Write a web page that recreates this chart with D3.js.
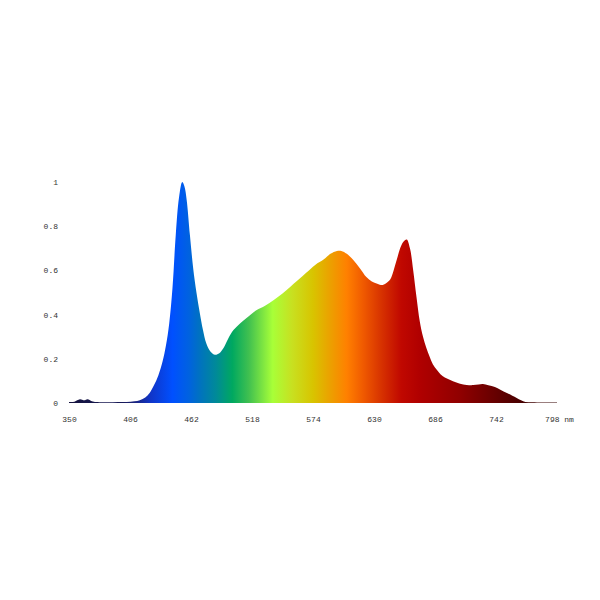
<!DOCTYPE html>
<html>
<head>
<meta charset="utf-8">
<script src="https://cdn.jsdelivr.net/npm/d3@7"></script>
<style>
  html, body { margin: 0; padding: 0; background: #fff; }
  svg { display: block; }
  text { font-family: "Liberation Mono", "DejaVu Sans Mono", monospace; font-size: 8px; fill: #333; }
</style>
</head>
<body>
<svg id="chart" width="600" height="600"></svg>
<script>
const wavelengths = [350,355,360,364,367,371,375,385,395,403,410,415,420,424,428,432,436,439,442,445,448,451,454,456,458,461,464,467,470,473,476,480,484,488,492,496,501,507,513,522,530,538,546,553,560,568,576,584,590,596,600,605,611,617,623,628,633,638,642,645,648,651,654,657,660,663,666,669,672,675,678,681,684,688,691,695,700,705,709,715,721,726,730,735,741,746,752,757,761,765,769,775,785,798];
const intensity = [0.004,0.006,0.017,0.012,0.017,0.008,0.004,0.003,0.004,0.005,0.008,0.013,0.025,0.045,0.08,0.125,0.19,0.26,0.36,0.52,0.76,0.93,1.0,0.98,0.92,0.76,0.61,0.5,0.41,0.33,0.27,0.232,0.218,0.225,0.25,0.29,0.33,0.36,0.385,0.42,0.44,0.466,0.495,0.525,0.555,0.59,0.625,0.65,0.675,0.688,0.688,0.675,0.647,0.61,0.57,0.55,0.54,0.534,0.545,0.56,0.6,0.65,0.7,0.73,0.74,0.7,0.6,0.48,0.37,0.3,0.25,0.21,0.175,0.148,0.13,0.115,0.104,0.094,0.087,0.082,0.081,0.084,0.086,0.08,0.072,0.06,0.045,0.033,0.023,0.012,0.005,0.003,0.002,0.002];

const xTicks = [350,406,462,518,574,630,686,742,798];
const yTicks = [0,0.2,0.4,0.6,0.8,1];

const colorStopWavelengths = [350,400,412,425,445,460,470,485,500,515,537,555,574,590,605,620,636,655,672,709,746,770,798];
const colorStopColors = ["#14123d","#181a5a","#1a2585","#1035c8","#0050ff","#0062e0","#0072c0","#008a98","#00a860","#40c050","#a8ff38","#c8e020","#d8c400","#eca000","#ff8000","#f05a00","#d83400","#c00800","#b00000","#900000","#600000","#420000","#300000"];

const svg = d3.select("#chart");
const x = d3.scaleLinear().domain([350, 798]).range([69, 557]);
const y = d3.scaleLinear().domain([0, 1]).range([403, 182]);

const defs = svg.append("defs");
const grad = defs.append("linearGradient")
  .attr("id", "spec")
  .attr("gradientUnits", "userSpaceOnUse")
  .attr("x1", x(350)).attr("x2", x(798))
  .attr("y1", 0).attr("y2", 0);
colorStopWavelengths.forEach((w, i) => {
  grad.append("stop")
    .attr("offset", (w - 350) / (798 - 350))
    .attr("stop-color", colorStopColors[i]);
});

const data = wavelengths.map((w, i) => ({w, v: intensity[i]}));
const area = d3.area()
  .x(d => x(d.w))
  .y0(y(0))
  .y1(d => y(Math.max(0, d.v)))
  .curve(d3.curveCatmullRom.alpha(0.5));

svg.append("path")
  .datum(data)
  .attr("d", area)
  .attr("fill", "url(#spec)");

// x axis labels
const xAxis = d3.axisBottom(x).tickValues(xTicks)
  .tickSize(0).tickPadding(0)
  .tickFormat(d => d === 798 ? "798 nm" : d);
const gx = svg.append("g").attr("transform", "translate(0,416)").call(xAxis);
gx.select(".domain").remove();
gx.selectAll("text").attr("dy", "0.35em").attr("y", 3)
  .attr("dx", d => d === 798 ? 2 : 0);

// y axis labels
const yAxis = d3.axisLeft(y).tickValues(yTicks)
  .tickSize(0).tickPadding(0)
  .tickFormat(d => d);
const gy = svg.append("g").attr("transform", "translate(58,0)").call(yAxis);
gy.select(".domain").remove();
gy.selectAll("text").attr("x", 0);
</script>
</body>
</html>
